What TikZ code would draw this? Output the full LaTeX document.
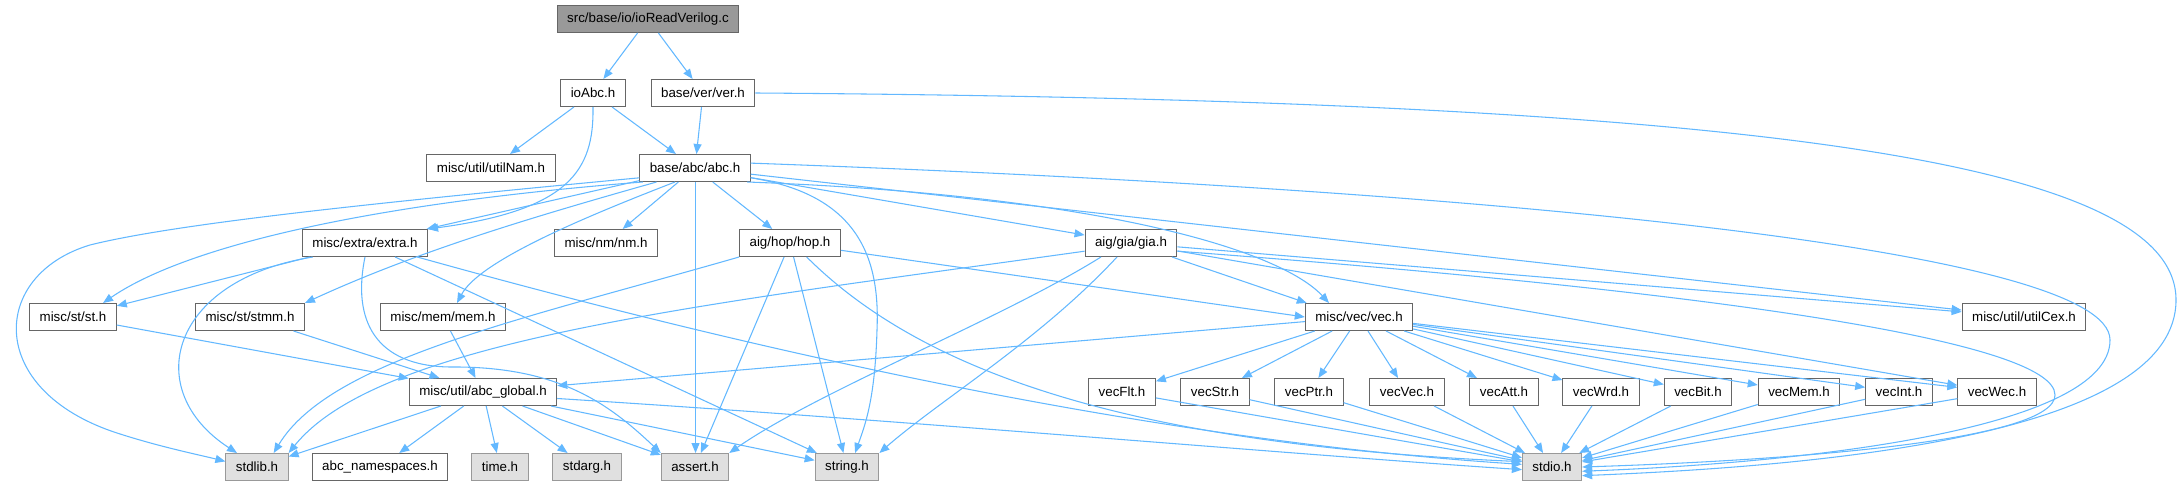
\documentclass[tikz,border=0pt]{standalone}
\usepackage{fontspec}
\setmainfont{Liberation Sans}
\usetikzlibrary{arrows.meta}

\definecolor{edgeblue}{HTML}{63B8FF}
\definecolor{nodeline}{HTML}{666666}
\definecolor{sysline}{HTML}{999999}
\definecolor{sysfill}{HTML}{E0E0E0}
\definecolor{mainfill}{HTML}{999999}

\begin{document}
\begin{tikzpicture}[x=0.75pt, y=-0.75pt, >={Triangle[length=7.5pt,width=6pt]},
	every node/.style={font=\fontsize{10}{12}\selectfont, inner xsep=7.5pt, inner ysep=0pt, minimum height=20.25pt, line width=0.75pt},
	hdr/.style={draw=nodeline, fill=white},
	syshdr/.style={draw=sysline, fill=sysfill},
	srcfile/.style={draw=nodeline, fill=mainfill},
	dep/.style={->, draw=edgeblue, line width=0.8pt}]
	\useasboundingbox (0,0) rectangle (2180,485);
	\node[srcfile] (iorv) at (648,19) {src/base/io/ioReadVerilog.c};
	\node[hdr] (ioabc) at (593,93) {ioAbc.h};
	\node[hdr] (ver) at (703,93) {base/ver/ver.h};
	\node[hdr] (utilnam) at (491,168) {misc/util/utilNam.h};
	\node[hdr] (abch) at (695,168) {base/abc/abc.h};
	\node[hdr] (extra) at (365,243) {misc/extra/extra.h};
	\node[hdr] (nm) at (606,243) {misc/nm/nm.h};
	\node[hdr] (hop) at (790,243) {aig/hop/hop.h};
	\node[hdr] (gia) at (1131,243) {aig/gia/gia.h};
	\node[hdr] (st) at (73,317) {misc/st/st.h};
	\node[hdr] (stmm) at (250,317) {misc/st/stmm.h};
	\node[hdr] (mem) at (443,317) {misc/mem/mem.h};
	\node[hdr] (vec) at (1359,317) {misc/vec/vec.h};
	\node[hdr] (utilcex) at (2024,317) {misc/util/utilCex.h};
	\node[hdr] (abcglobal) at (483,392) {misc/util/abc\_global.h};
	\node[hdr] (vecflt) at (1122,392) {vecFlt.h};
	\node[hdr] (vecstr) at (1215,392) {vecStr.h};
	\node[hdr] (vecptr) at (1309,392) {vecPtr.h};
	\node[hdr] (vecvec) at (1407,392) {vecVec.h};
	\node[hdr] (vecatt) at (1504,392) {vecAtt.h};
	\node[hdr] (vecwrd) at (1601,392) {vecWrd.h};
	\node[hdr] (vecbit) at (1698,392) {vecBit.h};
	\node[hdr] (vecmem) at (1799,392) {vecMem.h};
	\node[hdr] (vecint) at (1899,392) {vecInt.h};
	\node[hdr] (vecwec) at (1997,392) {vecWec.h};
	\node[syshdr] (stdlib) at (257,467) {stdlib.h};
	\node[hdr] (abcns) at (380,467) {abc\_namespaces.h};
	\node[syshdr] (timeh) at (500,467) {time.h};
	\node[syshdr] (stdarg) at (587,467) {stdarg.h};
	\node[syshdr] (assert) at (695,467) {assert.h};
	\node[syshdr] (string) at (847,467) {string.h};
	\node[syshdr] (stdio) at (1552,467) {stdio.h};

	\draw[dep] (iorv) -- (ioabc);
	\draw[dep] (iorv) -- (ver);
	\draw[dep] (ioabc) -- (utilnam);
	\draw[dep] (ioabc) -- (abch);
	\draw[dep] (ioabc.south) .. controls (594,170) and (570,210) .. (extra.north east);
	\draw[dep] (ver) -- (abch);
	\draw[dep] (ver.east) .. controls (1750,100) and (2176,160) .. (2176,300) .. controls (2176,430) and (1850,465) .. (stdio.-16);

	\draw[dep] (abch) -- (extra);
	\draw[dep] (abch.195) .. controls (350,205) and (180,250) .. (st.25);
	\draw[dep] (abch.190) .. controls (350,205) and (170,225) .. (90,245) .. controls (-10,275) and (-15,390) .. (117,433) .. controls (160,447) and (200,455) .. (stdlib.170);
	\draw[dep] (abch.200) .. controls (540,215) and (420,250) .. (stmm.north east);
	\draw[dep] (abch.215) .. controls (590,215) and (480,260) .. (mem.45);
	\draw[dep] (abch) -- (nm);
	\draw[dep] ([xshift=0.4pt]abch.south) -- ([xshift=0.4pt]assert.north);
	\draw[dep] (abch) -- (hop);
	\draw[dep] (abch.-10) .. controls (860,195) and (880,260) .. (877,330) .. controls (875,400) and (865,425) .. (string.60);
	\draw[dep] (abch) -- (gia);
	\draw[dep] (abch.-15) .. controls (1100,195) and (1280,250) .. (vec.155);
	\draw[dep] (abch) -- (utilcex);
	\draw[dep] (abch.5) .. controls (1500,190) and (2110,250) .. (2110,340) .. controls (2110,430) and (1800,463) .. (stdio.-8);

	\draw[dep] (extra) -- (st);
	\draw[dep] (extra.195) .. controls (170,280) and (140,390) .. (stdlib.145);
	\draw[dep] (extra.south) .. controls (352,320) and (375,366) .. (450,367) .. controls (560,366) and (610,405) .. (assert.north west);
	\draw[dep] (extra) -- (string);
	\draw[dep] (extra.-15) .. controls (750,350) and (1150,440) .. (stdio.175);

	\draw[dep] (hop.south west) .. controls (520,320) and (330,360) .. (stdlib.40);
	\draw[dep] (hop) -- (assert);
	\draw[dep] (hop) -- (string);
	\draw[dep] (hop) -- (vec.west);
	\draw[dep] (hop.-40) .. controls (930,380) and (1150,445) .. (stdio.170);

	\draw[dep] (gia.190) .. controls (700,305) and (380,340) .. (stdlib.north east);
	\draw[dep] (gia.-155) .. controls (1000,320) and (820,390) .. (assert.north east);
	\draw[dep] (gia.-135) .. controls (1040,340) and (940,400) .. (string.north east);
	\draw[dep] (gia) -- (vec.165);
	\draw[dep] (gia) -- (utilcex);
	\draw[dep] (gia) -- (vecwec);
	\draw[dep] (gia.-10) .. controls (1700,290) and (2055,340) .. (2055,395) .. controls (2055,440) and (1800,460) .. (stdio.east);

	\draw[dep] (st) -- (abcglobal);
	\draw[dep] (stmm) -- (abcglobal);
	\draw[dep] (mem) -- (abcglobal);

	\draw[dep] (vec) -- (abcglobal);
	\draw[dep] (vec) -- (vecflt);
	\draw[dep] (vec) -- (vecstr);
	\draw[dep] (vec) -- (vecptr);
	\draw[dep] (vec) -- (vecvec);
	\draw[dep] (vec) -- (vecatt);
	\draw[dep] (vec) -- (vecwrd);
	\draw[dep] (vec) -- (vecbit);
	\draw[dep] (vec) -- (vecmem);
	\draw[dep] (vec) -- (vecint);
	\draw[dep] (vec) -- (vecwec);

	\draw[dep] (abcglobal) -- (stdlib);
	\draw[dep] (abcglobal) -- (abcns);
	\draw[dep] (abcglobal) -- (timeh);
	\draw[dep] (abcglobal) -- (stdarg);
	\draw[dep] (abcglobal) -- (assert);
	\draw[dep] (abcglobal) -- (string);
	\draw[dep] (abcglobal.-5) .. controls (900,420) and (1300,455) .. (stdio.185);

	\draw[dep] (vecflt) -- (stdio);
	\draw[dep] (vecstr) -- (stdio);
	\draw[dep] (vecptr) -- (stdio);
	\draw[dep] (vecvec) -- (stdio);
	\draw[dep] (vecatt) -- (stdio);
	\draw[dep] (vecwrd) -- (stdio);
	\draw[dep] (vecbit) -- (stdio);
	\draw[dep] (vecmem) -- (stdio);
	\draw[dep] (vecint) -- (stdio);
	\draw[dep] (vecwec) -- (stdio);
\end{tikzpicture}
\end{document}
